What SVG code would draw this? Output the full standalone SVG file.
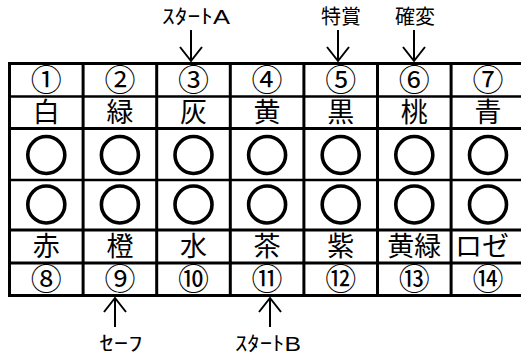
<svg xmlns="http://www.w3.org/2000/svg" width="521" height="358" viewBox="0 0 521 358">
<style>
.t{font-family:"Liberation Sans","Noto Sans CJK JP","Noto Sans CJK SC",sans-serif;text-anchor:middle;dominant-baseline:central;fill:#000}
.num{font-size:31px}
.col{font-size:27px}
.lbl{font-size:20px}
.mark{fill:none;stroke:#000;stroke-width:3.6}
.g{stroke:#000;fill:none}
.thick{stroke-width:3}
.thin{stroke-width:2.5}
.arr{stroke:#000;stroke-width:2;fill:none}
</style>
<rect width="521" height="358" fill="#fff"/>
<g id="grid">
<path class="g thick" d="M8 63.5H525 M8 128.5H525 M8 230H525 M8 263H525 M8 295.5H525"/>
<path class="g thin" d="M8 96.5H525 M8 180H525"/>
<path class="g thick" d="M9.5 62V297 M83.1 62V297 M156.7 62V297 M230.3 62V297 M303.9 62V297 M377.5 62V297 M451.1 62V297"/>
</g>
<g id="top-numbers">
<text class="t num" x="46.3" y="80">①</text>
<text class="t num" x="119.9" y="80">②</text>
<text class="t num" x="193.5" y="80">③</text>
<text class="t num" x="267.1" y="80">④</text>
<text class="t num" x="340.7" y="80">⑤</text>
<text class="t num" x="414.3" y="80">⑥</text>
<text class="t num" x="488" y="80">⑦</text>
</g>
<g id="top-colors">
<text class="t col" x="46.3" y="112.5">白</text>
<text class="t col" x="119.9" y="112.5">緑</text>
<text class="t col" x="193.5" y="112.5">灰</text>
<text class="t col" x="267.1" y="112.5">黄</text>
<text class="t col" x="340.7" y="112.5">黒</text>
<text class="t col" x="414.3" y="112.5">桃</text>
<text class="t col" x="488" y="112.5">青</text>
</g>
<g id="marks-row1">
<circle class="mark" cx="46.3" cy="155" r="18.5"/>
<circle class="mark" cx="119.9" cy="155" r="18.5"/>
<circle class="mark" cx="193.5" cy="155" r="18.5"/>
<circle class="mark" cx="267.1" cy="155" r="18.5"/>
<circle class="mark" cx="340.7" cy="155" r="18.5"/>
<circle class="mark" cx="414.3" cy="155" r="18.5"/>
<circle class="mark" cx="488" cy="155" r="18.5"/>
</g>
<g id="marks-row2">
<circle class="mark" cx="46.3" cy="204.5" r="18.5"/>
<circle class="mark" cx="119.9" cy="204.5" r="18.5"/>
<circle class="mark" cx="193.5" cy="204.5" r="18.5"/>
<circle class="mark" cx="267.1" cy="204.5" r="18.5"/>
<circle class="mark" cx="340.7" cy="204.5" r="18.5"/>
<circle class="mark" cx="414.3" cy="204.5" r="18.5"/>
<circle class="mark" cx="488" cy="204.5" r="18.5"/>
</g>
<g id="bottom-colors">
<text class="t col" x="46.3" y="246.5">赤</text>
<text class="t col" x="119.9" y="246.5">橙</text>
<text class="t col" x="193.5" y="246.5">水</text>
<text class="t col" x="267.1" y="246.5">茶</text>
<text class="t col" x="340.7" y="246.5">紫</text>
<text class="t col" x="414.3" y="246.5">黄緑</text>
<text class="t col" x="482" y="246.5">ロゼ</text>
</g>
<g id="bottom-numbers">
<text class="t num" x="46.3" y="279">⑧</text>
<text class="t num" x="119.9" y="279">⑨</text>
<text class="t num" x="193.5" y="279">⑩</text>
<text class="t num" x="267.1" y="279">⑪</text>
<text class="t num" x="340.7" y="279">⑫</text>
<text class="t num" x="414.3" y="279">⑬</text>
<text class="t num" x="488" y="279">⑭</text>
</g>
<g id="labels">
<text class="t lbl" x="196" y="17" textLength="68" lengthAdjust="spacingAndGlyphs">ｽﾀｰﾄA</text>
<text class="t lbl" x="341" y="17">特賞</text>
<text class="t lbl" x="415" y="17">確変</text>
<text class="t lbl" x="121" y="344" textLength="43" lengthAdjust="spacingAndGlyphs">ｾｰﾌ</text>
<text class="t lbl" x="268" y="344" textLength="66" lengthAdjust="spacingAndGlyphs">ｽﾀｰﾄB</text>
</g>
<g id="connectors">
<path class="arr" d="M191 30V61 M180 47L191 61L202 47"/>
<path class="arr" d="M338 30V61 M327 47L338 61L349 47"/>
<path class="arr" d="M414 30V61 M403 47L414 61L425 47"/>
<path class="arr" d="M115 327V298 M104 312L115 298L126 312"/>
<path class="arr" d="M270 327V298 M259 312L270 298L281 312"/>
</g>
</svg>
